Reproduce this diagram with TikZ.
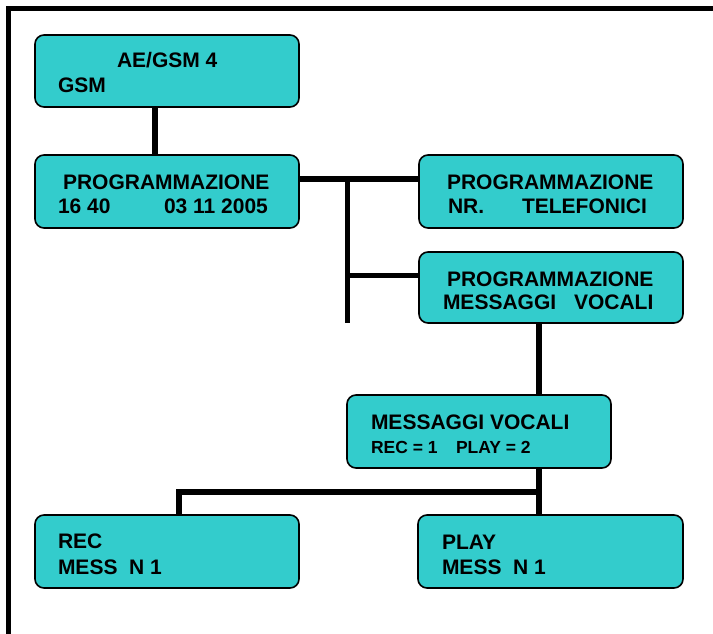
\documentclass[tikz,border=0pt]{standalone}
\usepackage{fontspec}
\setmainfont{Liberation Sans}
\definecolor{boxcyan}{HTML}{33CCCC}
\begin{document}
\begin{tikzpicture}[x=1pt,y=-1pt,
  box/.style={draw=black, line width=1.6pt, fill=boxcyan, rounded corners=9pt,
    anchor=north west, inner sep=0pt, outer sep=0pt},
  conn/.style={line width=5.2pt, line cap=butt},
  txt/.style={anchor=base west, inner sep=0pt, outer sep=0pt,
    font=\fontsize{21}{24}\selectfont\bfseries},
  txts/.style={anchor=base west, inner sep=0pt, outer sep=0pt,
    font=\fontsize{17.5}{21}\selectfont\bfseries}]
\useasboundingbox (0,0) rectangle (713,634);
% frame
\draw[line width=5pt, line join=miter] (8.5,640) -- (8.5,8.5) -- (720,8.5);
% boxes
\node[box, minimum width=264pt, minimum height=72pt] (b1) at (35,35) {};
\node[box, minimum width=264pt, minimum height=73pt] (b2) at (35,155) {};
\node[box, minimum width=264pt, minimum height=73pt] (b3) at (419,155) {};
\node[box, minimum width=264pt, minimum height=71pt] (b4) at (419,252) {};
\node[box, minimum width=264pt, minimum height=73pt] (b5) at (347,395) {};
\node[box, minimum width=264pt, minimum height=73pt] (b6) at (35,515) {};
\node[box, minimum width=265pt, minimum height=73pt] (b7) at (418,515) {};
% coordinates for connectors
\coordinate (xa) at (155,0);
\coordinate (ya) at (0,179);
\coordinate (j1) at (347.5,179);
\coordinate (j2) at (347.5,323);
\coordinate (j3) at (347.5,275.5);
\coordinate (xb) at (539,0);
\coordinate (jc) at (539,492);
\coordinate (jd) at (179,492);
% connectors
\begin{scope}[on background layer/.style={}]
\draw[conn] (b1.south -| xa) -- (b2.north -| xa);
\draw[conn] (b2.east |- ya) -- (b3.west |- ya);
\draw[conn] (j1) -- (j2);
\draw[conn] (j3) -- (b4.west |- j3);
\draw[conn] (b4.south -| xb) -- (b5.north -| xb);
\draw[conn] (b5.south -| xb) -- (b7.north -| xb);
\draw[conn, line join=miter] (jc) -- (jd) -- (b6.north -| jd);
\end{scope}
% texts
\node[txt] (t1a) at (117,68) {AE/GSM 4};
\node[txt] (t1b) at (58,93) {GSM};
\node[txt] (t2a) at (63,189) {PROGRAMMAZIONE};
\node[txt] (t2b) at (58,213) {16 40};
\node[txt] (t2c) at (164,213) {03 11 2005};
\node[txt] (t3a) at (447,189) {PROGRAMMAZIONE};
\node[txt] (t3b) at (448,213) {NR.};
\node[txt] (t3c) at (522,213) {TELEFONICI};
\node[txt] (t4a) at (447,286) {PROGRAMMAZIONE};
\node[txt] (t4b) at (443,309) {MESSAGGI};
\node[txt] (t4c) at (574,309) {VOCALI};
\node[txt] (t5a) at (371,429) {MESSAGGI VOCALI};
\node[txts] (t5b) at (371,453) {REC = 1};
\node[txts] (t5c) at (456,453) {PLAY = 2};
\node[txt] (t6a) at (58,548) {REC};
\node[txt] (t6b) at (58,574) {MESS\ \ N 1};
\node[txt] (t7a) at (442,549) {PLAY};
\node[txt] (t7b) at (442,574) {MESS\ \ N 1};
\end{tikzpicture}
\end{document}
